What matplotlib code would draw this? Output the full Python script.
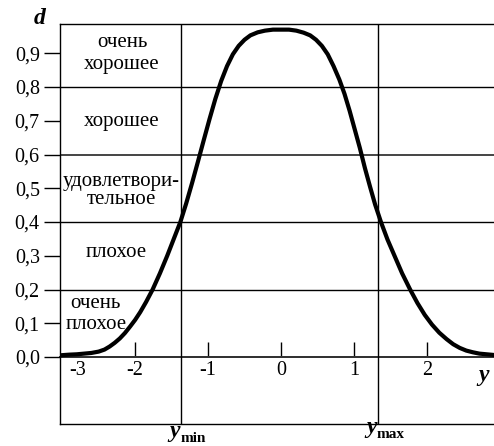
import matplotlib
matplotlib.use("Agg")
import matplotlib.pyplot as plt
from matplotlib.transforms import offset_copy, blended_transform_factory

plt.rcParams['font.family'] = ['Liberation Serif', 'DejaVu Serif']

# ---- data ----
y_vals = [-3.03, -2.90, -2.80, -2.70, -2.60, -2.50, -2.42, -2.35, -2.28, -2.21,
          -2.14, -2.07, -2.00, -1.93, -1.85, -1.76, -1.66, -1.56, -1.47, -1.38,
          -1.30, -1.22, -1.14, -1.06, -0.98, -0.90, -0.82, -0.74, -0.66, -0.58,
          -0.50, -0.42, -0.32, -0.22, -0.11, 0.0,
          0.11, 0.21, 0.31, 0.40, 0.48, 0.56, 0.64, 0.72, 0.80, 0.87,
          0.94, 1.01, 1.08, 1.15, 1.22, 1.29, 1.37, 1.46, 1.56, 1.66,
          1.77, 1.87, 1.97, 2.07, 2.17, 2.27, 2.36, 2.45, 2.54, 2.63,
          2.72, 2.82, 2.92]
d_vals = [0.005, 0.007, 0.008, 0.010, 0.012, 0.016, 0.022, 0.031, 0.042, 0.055,
          0.071, 0.090, 0.110, 0.133, 0.163, 0.200, 0.248, 0.300, 0.350, 0.400,
          0.455, 0.515, 0.578, 0.642, 0.705, 0.765, 0.818, 0.862, 0.897, 0.922,
          0.940, 0.953, 0.962, 0.967, 0.970, 0.970,
          0.970, 0.967, 0.961, 0.953, 0.940, 0.922, 0.897, 0.862, 0.822, 0.780,
          0.730, 0.675, 0.620, 0.560, 0.505, 0.452, 0.400, 0.348, 0.298, 0.248,
          0.200, 0.160, 0.125, 0.096, 0.072, 0.053, 0.038, 0.027, 0.019, 0.014,
          0.010, 0.008, 0.006]

d_ticks = [0.0, 0.1, 0.2, 0.3, 0.4, 0.5, 0.6, 0.7, 0.8, 0.9]
d_tick_labels = ['0,0', '0,1', '0,2', '0,3', '0,4', '0,5', '0,6', '0,7', '0,8', '0,9']
boundaries = [0.2, 0.4, 0.6, 0.8]

y_ticks = [-2, -1, 0, 1, 2]
y_tick_labels = ['-3', '-2', '-1', '0', '1', '2']

y_min = -1.37
y_max = 1.33

categories = [
    ("очень", -2.18, 0.918),
    ("хорошее", -2.18, 0.853),
    ("хорошее", -2.18, 0.684),
    ("удовлетвори-", -2.19, 0.507),
    ("тельное", -2.19, 0.453),
    ("плохое", -2.26, 0.296),
    ("очень", -2.55, 0.145),
    ("плохое", -2.53, 0.083),
]

# ---- figure ----
W, H = 494, 446
fig = plt.figure(figsize=(W / 100, H / 100), dpi=100)
ax = fig.add_axes([60 / W, 1 - 424 / H, (W - 60) / W, (424 - 24) / H])
ax.set_xlim(-3.03, 2.92)
ax.set_ylim(-0.1985, 0.9867)

for s in ['left', 'top', 'bottom']:
    ax.spines[s].set_linewidth(1.0)
    ax.spines[s].set_color('black')
ax.spines['right'].set_visible(False)

ax.set_xticks([])
ax.set_yticks(d_ticks)
ax.set_yticklabels(d_tick_labels)
ax.tick_params(axis='y', direction='out', length=11.5, width=1.0,
               labelsize=14.5, pad=3, colors='black')

for b in boundaries:
    lw, col = (1.4, '#444444') if b == 0.6 else (1.0, 'black')
    ax.axhline(b, color=col, lw=lw, zorder=1)
ax.axhline(0.0, color='#333333', lw=1.4, zorder=1)

ax.axvline(y_min, color='black', lw=1.0, zorder=1)
ax.axvline(y_max, color='black', lw=1.0, zorder=1)

ax.plot(y_vals, d_vals, color='black', lw=3.0, solid_joinstyle='round',
        solid_capstyle='round', zorder=3, clip_on=True)

# secondary x axis along d = 0
loc = (0 - (-0.1985)) / (0.9867 + 0.1985)
sec = ax.secondary_xaxis(loc)
sec.set_xticks([-2.79] + y_ticks)
sec.set_xticklabels(y_tick_labels)
sec.tick_params(direction='in', length=10.8, width=1.0, labelsize=14.5, pad=3)
sec.spines['bottom'].set_linewidth(1.4)
sec.spines['bottom'].set_color('#333333')
sec.xaxis.get_major_ticks()[0].tick1line.set_visible(False)

for txt, x, yb in categories:
    ax.text(x, yb, txt, ha='center', va='baseline', fontsize=15, zorder=4)

# axis names
fig.text(40 / W, 1 - 19 / H, 'd', fontsize=17, fontweight='bold',
         fontstyle='italic', ha='center', va='center')
fig.text(484 / W, 1 - 376 / H, 'y', fontsize=17, fontweight='bold',
         fontstyle='italic', ha='center', va='center')

# y_min / y_max labels under the frame
tr_y = blended_transform_factory(ax.transData, fig.transFigure)
for xv, base_px, name in [(y_min, 437, 'min'), (y_max, 433, 'max')]:
    ax.text(xv, 1 - base_px / H, 'y',
            transform=offset_copy(tr_y, fig=fig, x=-1, y=0, units='dots'),
            fontsize=17, fontweight='bold', fontstyle='italic', ha='right',
            va='baseline', clip_on=False)
    ax.text(xv, 1 - (base_px + 5) / H, name,
            transform=offset_copy(tr_y, fig=fig, x=-1, y=0, units='dots'),
            fontsize=11, fontweight='bold', ha='left', va='baseline',
            clip_on=False)

fig.savefig('out.png', dpi=100)
